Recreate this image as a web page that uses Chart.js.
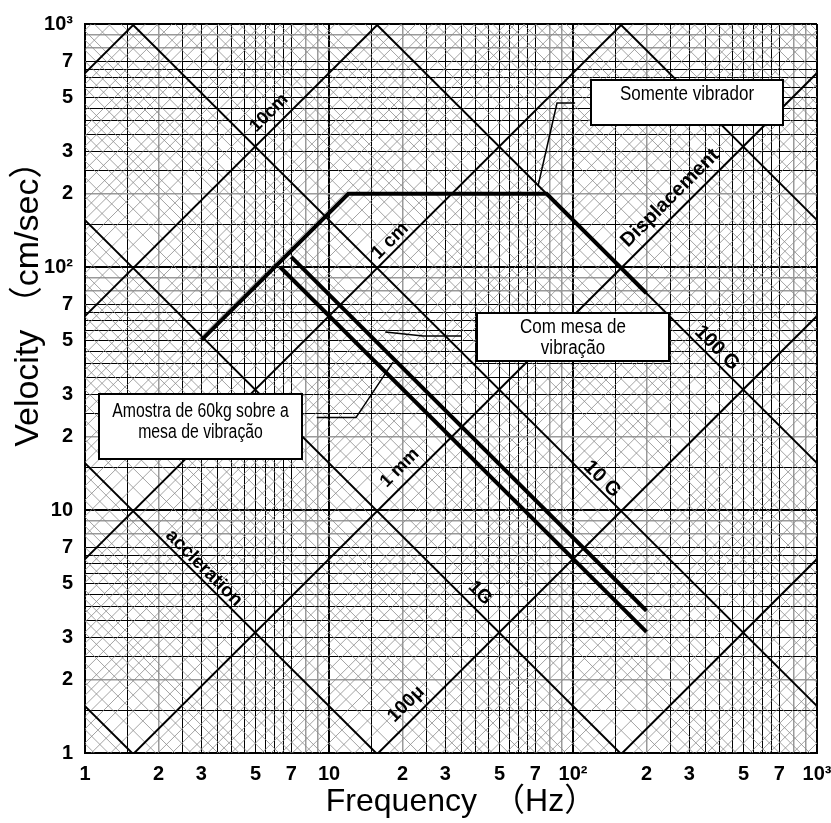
<!DOCTYPE html>
<html lang="pt">
<head>
<meta charset="UTF-8">
<title>Velocity x Frequency</title>
<script src="https://cdn.jsdelivr.net/npm/chart.js"></script>
<style>
    html, body { margin: 0; padding: 0; background: #fff; }
    #wrap { width: 831px; height: 823px; }
</style>
</head>
<body>
<div id="wrap"><canvas id="myChart" width="831" height="823"></canvas></div>
<script>
// grid lines inside each decade
const decades = [1, 10, 100];
const gridMantissas = [1, 1.5, 2, 2.5, 3, 3.5, 4, 4.5, 5, 5.5, 6, 6.5, 7, 8, 9];
const grayMantissas = [2, 8, 9];
const labeledTicks = [1, 2, 3, 5, 7, 10, 20, 30, 50, 70, 100, 200, 300, 500, 700, 1000];
const tickText = ['1', '2', '3', '5', '7', '10', '2', '3', '5', '7', '10²', '2', '3', '5', '7', '10³'];

// diagonal hatch (displacement / acceleration)
const hatchMantissas = [1.25, 1.5, 1.75, 2, 2.25, 2.5, 2.75, 3, 3.5, 4, 4.5, 5, 5.5, 6, 7, 8, 9];
const dispDecades = [0.0001, 0.001, 0.01, 0.1, 1, 10, 100];   // cm
const dispMajor = [0.001, 0.01, 0.1, 1, 10, 100];              // 10μ .. 100cm
const accDecades = [0.001, 0.01, 0.1, 1, 10, 100, 1000];      // G
const accMajor = [0.01, 0.1, 1, 10, 100, 1000];
const G = 980; // cm/s²

// curves
const vibratorF = [3, 12, 78, 200];
const vibratorV = [50, 200, 200, 78];
const tableF = [7, 200];
const tableV = [110, 3.85];
const sampleF = [6.3, 200];
const sampleV = [100, 3.15];

// leader lines of the notes
const vibLeaderF = [72, 86, 102];
const vibLeaderV = [217, 473, 473];
const tableLeaderF = [17, 24.3, 35];
const tableLeaderV = [54, 52, 52];
const sampleLeaderF = [8.9, 12.9, 18.3];
const sampleLeaderV = [24, 24, 40.6];

// note boxes (corners in data units)
const notes = [
    { lines: ['Somente vibrador'], f: [118.6, 726], v: [588, 384], first: 20, sx: 0.85 },
    { lines: ['Com mesa de', 'vibração'], f: [40.4, 247], v: [64.7, 41], first: 20, sx: 0.85 },
    { lines: ['Amostra de 60kg sobre a', 'mesa de vibração'], f: [1.14, 7.75], v: [30, 16.2], first: 23, sx: 0.79 }
];

// labels along the diagonals
const diagLabels = [
    { text: '10cm', f: 5.68, v: 430, rot: -45, size: 18 },
    { text: '1 cm', f: 17.8, v: 128, rot: -45, size: 19 },
    { text: 'Displacement', f: 250, v: 192, rot: -45, size: 20 },
    { text: '1 mm', f: 19.5, v: 14.9, rot: -45, size: 18 },
    { text: '100μ', f: 20.7, v: 1.59, rot: -45, size: 19 },
    { text: '100 G', f: 389, v: 46.4, rot: 45, size: 20 },
    { text: '10 G', f: 131.5, v: 13.4, rot: 45, size: 20 },
    { text: '1G', f: 41.6, v: 4.55, rot: 45, size: 19 },
    { text: 'accleration', f: 3.07, v: 5.77, rot: 45, size: 19 }
];

const sans = "'Liberation Sans', Arial, sans-serif";
const gridValues = decades.flatMap(d => gridMantissas.map(m => m * d)).concat([1000]);

function kind(value) {
    const e = Math.floor(Math.log10(value) + 1e-9);
    const m = value / Math.pow(10, e);
    if (Math.abs(m - 1) < 1e-6) return 'major';
    if (grayMantissas.some(g => Math.abs(g - m) < 1e-6)) return 'gray';
    return 'minor';
}

function tickLabel(value) {
    const i = labeledTicks.findIndex(t => Math.abs(t - value) < 1e-6 * t);
    return i >= 0 ? tickText[i] : '';
}

function pts(fs, vs) {
    return fs.map((f, i) => ({ x: f, y: vs[i] }));
}

// v = 2πfd  and  v = aG / (2πf)
function dispLine(d) {
    return [{ x: 1, y: 2 * Math.PI * d }, { x: 1000, y: 2 * Math.PI * 1000 * d }];
}
function accLine(a) {
    return [{ x: 1, y: G * a / (2 * Math.PI) }, { x: 1000, y: G * a / (2 * Math.PI * 1000) }];
}

function lineSet(data, color, width, order) {
    return {
        data: data, borderColor: color, borderWidth: width, pointRadius: 0,
        fill: false, tension: 0, order: order, borderCapStyle: 'butt'
    };
}

const datasets = [];
datasets.push(lineSet(pts(vibratorF, vibratorV), '#000', 4, 1));
datasets.push(lineSet(pts(tableF, tableV), '#000', 4, 1));
datasets.push(lineSet(pts(sampleF, sampleV), '#000', 4, 1));
datasets.push(lineSet(pts(vibLeaderF, vibLeaderV), '#000', 1.5, 0));
datasets.push(lineSet(pts(tableLeaderF, tableLeaderV), '#000', 1.5, 0));
datasets.push(lineSet(pts(sampleLeaderF, sampleLeaderV), '#000', 1.5, 0));
dispMajor.forEach(d => datasets.push(lineSet(dispLine(d), '#000', 2, 2)));
accMajor.forEach(a => datasets.push(lineSet(accLine(a), '#000', 2, 2)));
dispDecades.forEach(dec => hatchMantissas.forEach(m => datasets.push(lineSet(dispLine(m * dec), '#8c8c8c', 0.8, 3))));
accDecades.forEach(dec => hatchMantissas.forEach(m => datasets.push(lineSet(accLine(m * dec), '#8c8c8c', 0.8, 3))));

function axis(fitProp, fitSize, padding) {
    return {
        type: 'logarithmic',
        min: 1,
        max: 1000,
        z: 1,
        afterBuildTicks: s => { s.ticks = gridValues.map(v => ({ value: v })); },
        afterFit: s => {
            s[fitProp] = fitSize;
            s.paddingLeft = 0; s.paddingRight = 0; s.paddingTop = 0; s.paddingBottom = 0;
        },
        ticks: {
            autoSkip: false, maxRotation: 0, minRotation: 0, padding: padding,
            color: '#000', font: { family: sans, size: 20, weight: 'bold' },
            callback: v => tickLabel(v)
        },
        grid: {
            drawTicks: false,
            color: c => { const k = kind(c.tick.value); return k === 'gray' ? '#9a9a9a' : '#000'; },
            lineWidth: c => { const k = kind(c.tick.value); return k === 'major' ? 2 : (k === 'gray' ? 1.5 : 1); }
        },
        border: { display: true, color: '#000', width: 2 }
    };
}

const notesPlugin = {
    id: 'notes',
    afterDraw(chart) {
        const { ctx, chartArea, scales: { x, y } } = chart;
        ctx.save();
        // diagonal labels
        diagLabels.forEach(l => {
            ctx.save();
            ctx.translate(x.getPixelForValue(l.f), y.getPixelForValue(l.v));
            ctx.rotate(l.rot * Math.PI / 180);
            ctx.font = 'bold ' + l.size + 'px ' + sans;
            ctx.fillStyle = '#000';
            ctx.textAlign = 'center';
            ctx.textBaseline = 'middle';
            ctx.fillText(l.text, 0, 0);
            ctx.restore();
        });
        // note boxes
        notes.forEach(n => {
            const x0 = Math.round(x.getPixelForValue(n.f[0])), x1 = Math.round(x.getPixelForValue(n.f[1]));
            const y0 = Math.round(y.getPixelForValue(n.v[0])), y1 = Math.round(y.getPixelForValue(n.v[1]));
            ctx.fillStyle = '#fff';
            ctx.fillRect(x0, y0, x1 - x0, y1 - y0);
            ctx.lineWidth = 2;
            ctx.strokeStyle = '#000';
            ctx.strokeRect(x0, y0, x1 - x0, y1 - y0);
            ctx.fillStyle = '#000';
            ctx.font = '20px ' + sans;
            ctx.textAlign = 'center';
            ctx.textBaseline = 'alphabetic';
            n.lines.forEach((t, i) => {
                ctx.save();
                ctx.translate((x0 + x1) / 2, y0 + n.first + i * 21);
                ctx.scale(n.sx, 1);
                ctx.fillText(t, 0, 0);
                ctx.restore();
            });
        });
        // axis titles
        const w = chartArea.right - chartArea.left, h = chartArea.bottom - chartArea.top;
        ctx.fillStyle = '#000';
        ctx.textAlign = 'left';
        ctx.textBaseline = 'middle';
        ctx.font = "32px 'Liberation Sans', 'Noto Sans CJK JP', sans-serif";
        ctx.fillText('Frequency　（Hz）', chartArea.left + 0.329 * w, chartArea.bottom + 49);
        ctx.save();
        ctx.translate(29, chartArea.top + 0.580 * h);
        ctx.rotate(-Math.PI / 2);
        ctx.font = "34px 'Liberation Sans', 'Noto Sans CJK JP', sans-serif";
        ctx.fillText('Velocity （cm/sec）', 0, 0);
        ctx.restore();
        ctx.restore();
    }
};

new Chart(document.getElementById('myChart').getContext('2d'), {
    type: 'line',
    data: { datasets: datasets },
    options: {
        responsive: false,
        animation: false,
        events: [],
        layout: { padding: { left: 0, top: 24, right: 14, bottom: 0 } },
        plugins: { legend: { display: false }, tooltip: { enabled: false } },
        scales: {
            x: axis('height', 70, 9),
            y: axis('width', 85, 12)
        }
    },
    plugins: [notesPlugin]
});
</script>
</body>
</html>
